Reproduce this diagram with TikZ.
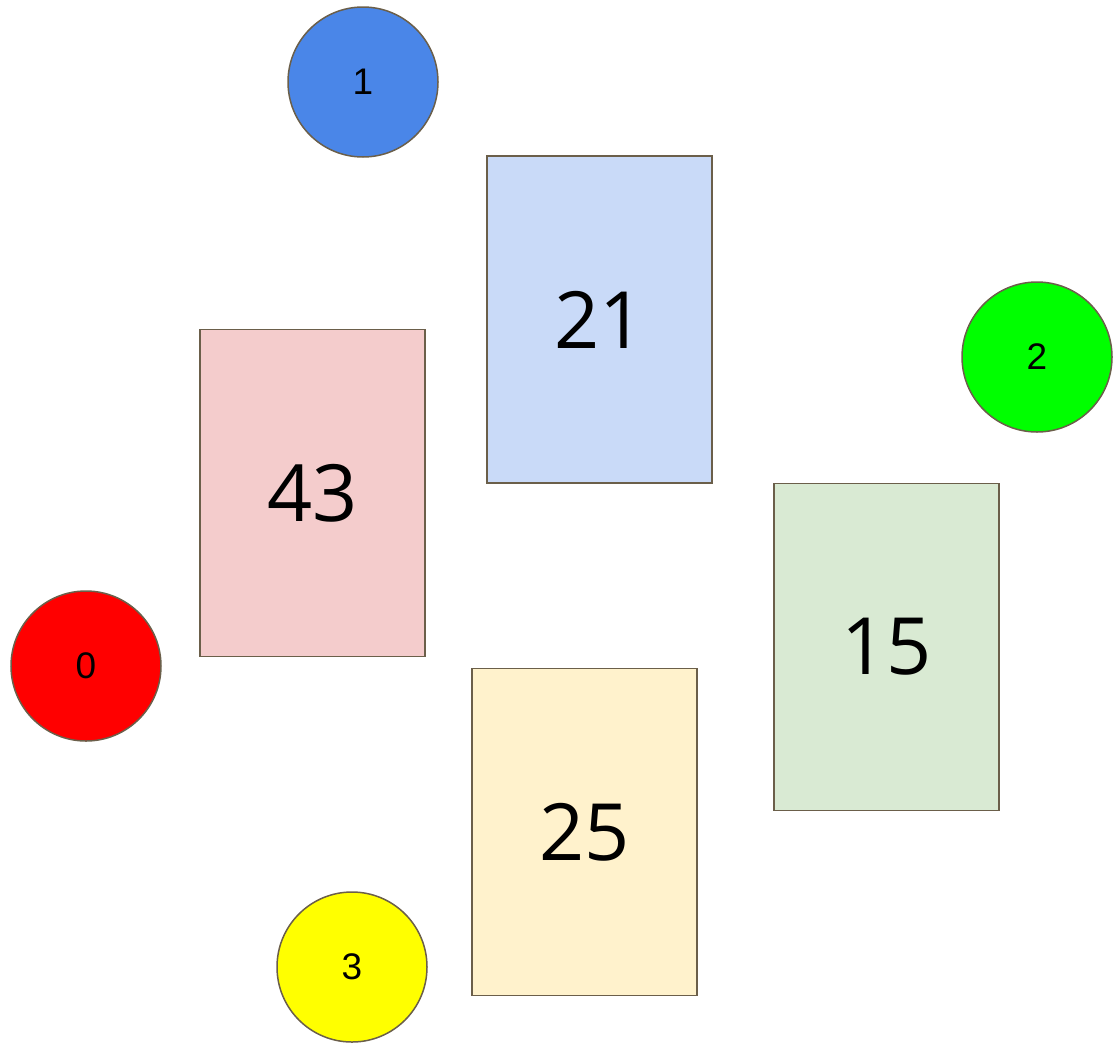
\documentclass[tikz,border=0pt]{standalone}
\usepackage{fontspec}
\setmainfont{Open Sans}
\newfontfamily\arialf{Liberation Sans}
\definecolor{bordc}{HTML}{6B5F4A}
\definecolor{cblue}{HTML}{4A86E8}
\definecolor{cgreen}{HTML}{00FF00}
\definecolor{cred}{HTML}{FF0000}
\definecolor{cyellow}{HTML}{FFFF00}
\definecolor{rblue}{HTML}{C9DAF8}
\definecolor{rred}{HTML}{F4CCCC}
\definecolor{rgreen}{HTML}{D9EAD3}
\definecolor{ryellow}{HTML}{FFF2CC}
\begin{document}
\begin{tikzpicture}[x=1pt,y=-1pt,
  dot/.style={circle,draw=bordc,line width=1.5pt,minimum size=150pt,inner sep=0pt,font=\arialf\fontsize{37}{40}\selectfont},
  box/.style={rectangle,draw=bordc,line width=1.5pt,minimum width=225pt,minimum height=327pt,inner sep=0pt,font=\fontsize{79}{88}\selectfont}]
\useasboundingbox (0,0) rectangle (1118,1042);
\node[dot,fill=cblue] (c1) at (363,82) {1};
\node[dot,fill=cgreen] (c2) at (1037,357) {2};
\node[dot,fill=cred] (c0) at (86,666) {0};
\node[dot,fill=cyellow] (c3) at (352,967) {3};
\node[box,fill=rblue] (r21) at (599.5,319.5) {21};
\node[box,fill=rred] (r43) at (312.5,493) {43};
\node[box,fill=rgreen] (r15) at (886.5,647) {15};
\node[box,fill=ryellow] (r25) at (584.5,832) {25};
\end{tikzpicture}
\end{document}
